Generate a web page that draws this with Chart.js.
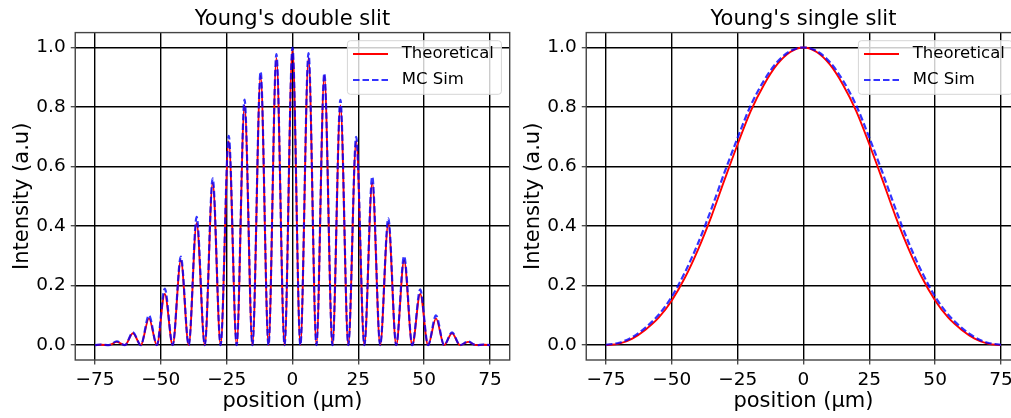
<!DOCTYPE html>
<html>
<head>
<meta charset="utf-8">
<script src="https://cdn.jsdelivr.net/npm/chart.js@4"></script>
<style>
  html, body { margin: 0; padding: 0; background: #fff; overflow: hidden; width: 1011px; height: 418px; }
  canvas { position: absolute; top: 0; }
  #double { left: 0; }
  #single { left: 511px; }
</style>
</head>
<body>
<canvas id="double" width="520" height="418"></canvas>
<canvas id="single" width="520" height="418"></canvas>
<script>
// tick labels
const posTicks = [-75, -50, -25, 0, 25, 50, 75];
const intensityTicks = [0, 0.2, 0.4, 0.6, 0.8, 1.0];
const seriesNames = ['Theoretical', 'MC Sim'];

// double slit: fringe maxima and minima
const doublePos = [-75, -72.7, -69.7, -66.7, -63.6, -60.6, -57.6, -54.5, -51.5, -48.5, -45.5, -42.4, -39.4,
    -36.4, -33.3, -30.3, -27.3, -24.2, -21.2, -18.2, -15.2, -12.1, -9.1, -6.1, -3.0, 0,
    3.0, 6.1, 9.1, 12.1, 15.2, 18.2, 21.2, 24.2, 27.3, 30.3, 33.3, 36.4, 39.4, 42.4, 45.5,
    48.5, 51.5, 54.5, 57.6, 60.6, 63.6, 66.7, 69.7, 72.7, 75];
const doubleTheory = [0, 0.001, 0, 0.011, 0, 0.04, 0, 0.09, 0, 0.172, 0, 0.285, 0,
    0.41, 0, 0.545, 0, 0.685, 0, 0.805, 0, 0.905, 0, 0.965, 0, 0.995,
    0, 0.965, 0, 0.905, 0, 0.805, 0, 0.685, 0, 0.545, 0, 0.41, 0, 0.285, 0,
    0.172, 0, 0.09, 0, 0.04, 0, 0.011, 0, 0.001, 0];
const doubleMC = [0, 0.002, 0, 0.013, 0, 0.043, 0, 0.10, 0, 0.19, 0, 0.297, 0,
    0.431, 0, 0.56, 0, 0.703, 0, 0.825, 0, 0.919, 0, 0.978, 0, 1.0,
    0, 0.981, 0, 0.913, 0, 0.824, 0, 0.70, 0, 0.566, 0, 0.426, 0, 0.299, 0,
    0.187, 0, 0.10, 0, 0.043, 0, 0.012, 0, 0.002, 0];

// single slit
const singlePos = [-75, -70, -65, -60, -55, -50, -45, -40, -35, -30, -25, -20, -15, -10, -5, 0,
    5, 10, 15, 20, 25, 30, 35, 40, 45, 50, 55, 60, 65, 70, 75];
const singleTheory = [0, 0.005, 0.022, 0.052, 0.092, 0.15, 0.227, 0.322, 0.432, 0.555, 0.675, 0.787, 0.875, 0.943, 0.985, 1.0,
    0.985, 0.943, 0.875, 0.787, 0.675, 0.555, 0.432, 0.322, 0.227, 0.15, 0.092, 0.052, 0.022, 0.005, 0];
const singleMC = [0.001, 0.008, 0.027, 0.059, 0.102, 0.163, 0.245, 0.343, 0.457, 0.58, 0.697, 0.806, 0.889, 0.951, 0.988, 1.0,
    0.988, 0.951, 0.889, 0.806, 0.697, 0.58, 0.457, 0.343, 0.245, 0.163, 0.102, 0.059, 0.027, 0.008, 0.001];

Chart.defaults.font.family = 'DejaVu Sans';
Chart.defaults.color = '#000';

const frame = {
    id: 'frame',
    afterDraw(chart) {
        const {ctx, chartArea: a} = chart;
        ctx.save();
        ctx.strokeStyle = '#444';
        ctx.lineWidth = 1.4;
        ctx.strokeRect(a.left, a.top, a.right - a.left, a.bottom - a.top);
        ctx.restore();
    }
};

const insideLegend = {
    id: 'insideLegend',
    afterDatasetsDraw(chart) {
        const {ctx, chartArea} = chart;
        const w = 154, h = 53.6;
        const x0 = chartArea.right - 8.3 - w, y0 = chartArea.top + 8.1;
        ctx.save();
        ctx.beginPath();
        ctx.roundRect(x0, y0, w, h, 3);
        ctx.fillStyle = 'rgba(255,255,255,0.8)';
        ctx.fill();
        ctx.strokeStyle = '#d5d5d5';
        ctx.lineWidth = 1;
        ctx.stroke();
        chart.data.datasets.forEach((ds, i) => {
            const cy = y0 + 13.3 + i * 26;
            ctx.beginPath();
            ctx.setLineDash(i ? [6.5, 3] : []);
            ctx.strokeStyle = ds.borderColor;
            ctx.lineWidth = 2;
            ctx.moveTo(x0 + 5.6, cy);
            ctx.lineTo(x0 + 40.6, cy);
            ctx.stroke();
            ctx.setLineDash([]);
            ctx.fillStyle = '#000';
            ctx.font = '16.5px "DejaVu Sans"';
            ctx.textBaseline = 'middle';
            ctx.textAlign = 'left';
            ctx.fillText(ds.label, x0 + 54.3, cy);
        });
        ctx.restore();
    }
};

function makeChart(id, title, xs, theory, mc) {
    new Chart(document.getElementById(id), {
        type: 'line',
        data: {
            datasets: [{
                label: seriesNames[0],
                data: xs.map((x, i) => ({x: x, y: theory[i]})),
                borderColor: '#ff0000',
                borderWidth: 1.9,
                pointRadius: 0,
                order: 2,
                cubicInterpolationMode: 'monotone'
            }, {
                label: seriesNames[1],
                data: xs.map((x, i) => ({x: x, y: mc[i]})),
                borderColor: 'rgba(0,0,255,0.8)',
                borderWidth: 2.2,
                borderDash: [6.5, 3],
                pointRadius: 0,
                order: 1,
                cubicInterpolationMode: 'monotone'
            }]
        },
        options: {
            responsive: false,
            devicePixelRatio: 1,
            animation: false,
            layout: {padding: {left: 0, right: 10.3, top: 0, bottom: 0}},
            plugins: {
                legend: {display: false},
                tooltip: {enabled: false},
                title: {
                    display: true,
                    text: title,
                    fullSize: false,
                    font: {size: 21, weight: 'normal'},
                    color: '#000',
                    padding: {top: 7.2, bottom: 0.2}
                }
            },
            scales: {
                x: {
                    type: 'linear',
                    min: -82.5,
                    max: 82.5,
                    afterBuildTicks: s => { s.ticks = posTicks.map(v => ({value: v})); },
                    afterFit: s => { s.height = 58; },
                    grid: {color: '#000', lineWidth: 1.4, tickColor: '#444', tickLength: 4.5, tickWidth: 1.3},
                    border: {display: false},
                    ticks: {
                        font: {size: 18.5},
                        color: '#000',
                        padding: 4.9,
                        maxRotation: 0,
                        callback: v => v < 0 ? '\u2212' + Math.abs(v) : String(v)
                    },
                    title: {
                        display: true,
                        text: 'position (\u03bcm)',
                        font: {size: 21},
                        color: '#000',
                        padding: {top: 0, bottom: 3.6}
                    }
                },
                y: {
                    min: -0.05,
                    max: 1.05,
                    afterBuildTicks: s => { s.ticks = intensityTicks.map(v => ({value: v})); },
                    afterFit: s => { s.width = 75.25; },
                    grid: {color: '#000', lineWidth: 1.4, tickColor: '#444', tickLength: 4.5, tickWidth: 1.3},
                    border: {display: false},
                    ticks: {
                        font: {size: 18.5},
                        color: '#000',
                        padding: 5,
                        callback: v => v.toFixed(1)
                    },
                    title: {
                        display: true,
                        text: 'Intensity (a.u)',
                        font: {size: 21},
                        color: '#000',
                        padding: {top: 9.5, bottom: 0}
                    }
                }
            }
        },
        plugins: [insideLegend, frame]
    });
}

makeChart('double', "Young's double slit", doublePos, doubleTheory, doubleMC);
makeChart('single', "Young's single slit", singlePos, singleTheory, singleMC);
</script>
</body>
</html>
